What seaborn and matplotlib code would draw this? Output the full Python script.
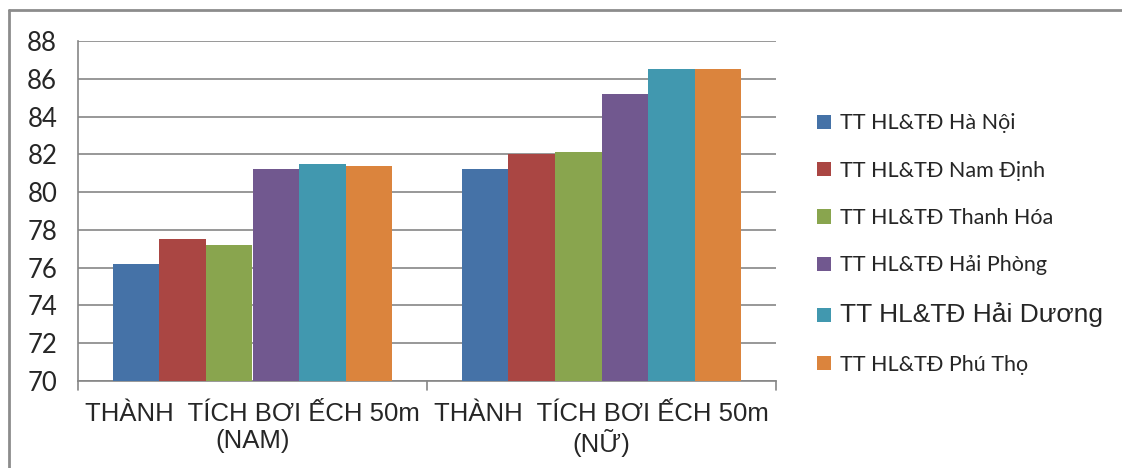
import pandas as pd
import numpy as np
import matplotlib.pyplot as plt
import seaborn as sns
from matplotlib.lines import Line2D
from matplotlib.patches import Patch

categories = ['THÀNH  TÍCH BƠI ẾCH 50m\n(NAM)', 'THÀNH  TÍCH BƠI ẾCH 50m\n(NỮ)']
centers = ['TT HL&TĐ Hà Nội', 'TT HL&TĐ Nam Định', 'TT HL&TĐ Thanh Hóa',
           'TT HL&TĐ Hải Phòng', 'TT HL&TĐ Hải Dương', 'TT HL&TĐ Phú Thọ']
nam = [76.2, 77.5, 77.2, 81.2, 81.5, 81.4]
nu = [81.2, 82.0, 82.1, 85.2, 86.5, 86.5]
colors = ['#4572A7', '#AA4643', '#89A54E', '#71588F', '#4198AF', '#DB843D']

rows = []
for c, v in zip(centers, nam):
    rows.append((categories[0], c, v))
for c, v in zip(centers, nu):
    rows.append((categories[1], c, v))
df = pd.DataFrame(rows, columns=['cat', 'center', 'value'])

sns.set_style("white")
plt.rcParams['font.family'] = ['Lato', 'DejaVu Sans']

fig = plt.figure(figsize=(11.22, 4.68), dpi=100)
ax = fig.add_axes([78/1122, 1-381/468, (776-78)/1122, (381-41)/468])

sns.barplot(data=df, x='cat', y='value', hue='center', hue_order=centers,
            palette=colors, width=0.8, ax=ax, legend=False,
            saturation=1, edgecolor='none', linewidth=0, zorder=3)

# bars start at 70, not 0
for p in ax.patches:
    h = p.get_height()
    p.set_y(70)
    p.set_height(h - 70)

ax.set_ylim(70, 88)
ax.set_xlim(-0.5, 1.5)
ax.set_yticks(np.arange(70, 89, 2))
ax.yaxis.grid(True, color='#868686', linewidth=1.2, zorder=0)
ax.set_axisbelow(True)
ax.set_xlabel('')
ax.set_ylabel('')

for s in ['top', 'right']:
    ax.spines[s].set_visible(False)
for s in ['left', 'bottom']:
    ax.spines[s].set_color('#868686')
    ax.spines[s].set_linewidth(1.2)

ax.tick_params(axis='y', length=8, color='#868686', width=1.2, labelsize=18.5, pad=7)
ax.set_xticks([0, 1])
ax.set_xticklabels(categories, fontsize=18.5, family=['Liberation Sans', 'DejaVu Sans'],
                   linespacing=1.15)
ax.tick_params(axis='x', length=0, pad=15)
# category boundary ticks
for xb in [-0.5, 0.5, 1.5]:
    ax.plot([xb, xb], [0, -0.025], transform=ax.get_xaxis_transform(),
            color='#868686', linewidth=1.2, clip_on=False)

handles = [Patch(facecolor=c, edgecolor='none') for c in colors]
leg = fig.legend(handles, centers, loc='upper left', bbox_to_anchor=(798/1122, 1-94/468),
                 frameon=False, fontsize=15.5, handlelength=0.65, handleheight=0.65,
                 handletextpad=0.4, labelspacing=1.27)
leg.get_texts()[4].set_family(['Liberation Sans', 'DejaVu Sans'])
leg.get_texts()[4].set_fontsize(19)

# outer border of the chart box
fig.add_artist(Line2D([9/1122, 9/1122], [0, 1-10/468], color='#8C8C8C', linewidth=2))
fig.add_artist(Line2D([9/1122, 1], [1-10/468, 1-10/468], color='#8C8C8C', linewidth=2))

plt.savefig('out.png', dpi=100)
